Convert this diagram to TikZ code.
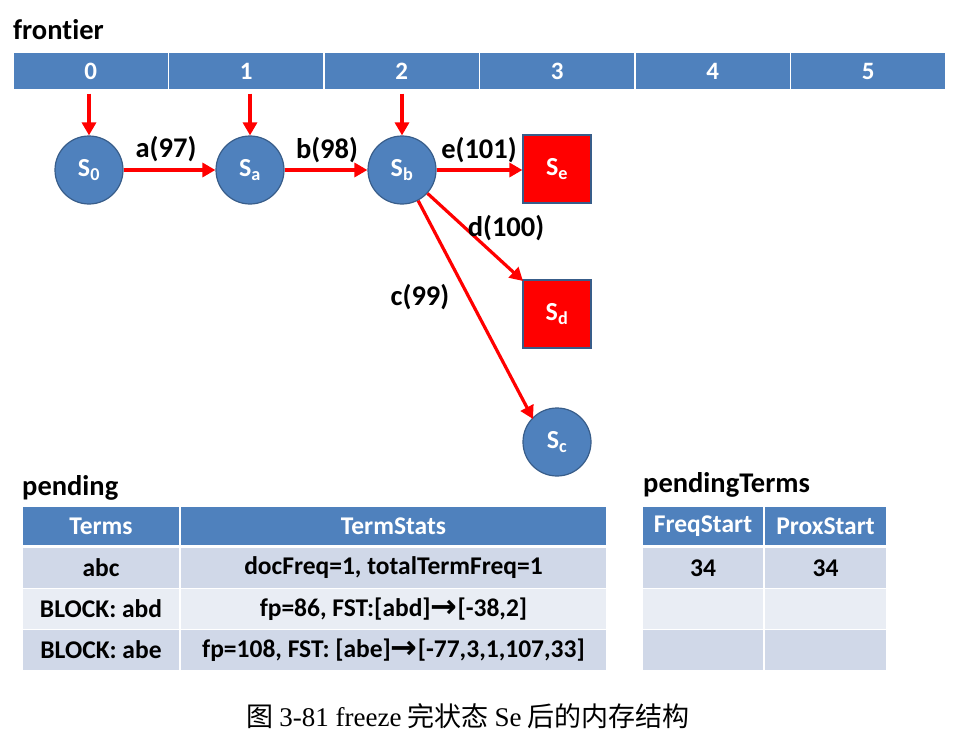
\documentclass[tikz,border=0pt]{standalone}
\usepackage{fontspec}
\setmainfont[Ligatures={NoCommon}]{Carlito}
\newfontfamily\capfont{Liberation Serif}
\newfontfamily\cjk{Noto Sans CJK SC}
\newfontfamily\arrowfont{DejaVu Sans}
\usetikzlibrary{arrows.meta}
\definecolor{hdr}{HTML}{4F81BD}
\definecolor{bord}{HTML}{385D8A}
\definecolor{rowA}{HTML}{D0D8E8}
\definecolor{rowB}{HTML}{E9EDF4}
\newcommand{\tarr}{{\arrowfont\bfseries\fontsize{32}{24}\selectfont\raisebox{-1pt}{→}}}
\begin{document}
\begin{tikzpicture}[x=1pt,y=-1pt,
  lbl/.style={font=\bfseries\fontsize{28.5}{32}\selectfont, text=black, inner sep=0},
  fcell/.style={rectangle, fill=hdr, draw=white, line width=1.2pt, minimum width=155.5, minimum height=38, inner sep=0, text=white, font=\bfseries\fontsize{25}{28}\selectfont},
  state/.style={circle, fill=hdr, draw=bord, line width=1.2pt, minimum size=68, inner sep=0, text=white, font=\bfseries\fontsize{26}{28}\selectfont},
  fstate/.style={rectangle, fill=red, draw=bord, line width=1.2pt, minimum size=68, inner sep=0, text=white, font=\bfseries\fontsize{26}{28}\selectfont},
  redarr/.style={draw=red, line width=3.2pt, -{Triangle[length=13pt,width=14pt]}},
  hcell/.style={rectangle, fill=hdr, draw=white, line width=1.5pt, inner sep=0, minimum height=40, text=white, font=\bfseries\fontsize{25.5}{28}\selectfont},
  rcellA/.style={rectangle, fill=rowA, draw=white, line width=1.5pt, inner sep=0, minimum height=41, text=black, font=\bfseries\fontsize{25.5}{28}\selectfont},
  rcellB/.style={rectangle, fill=rowB, draw=white, line width=1.5pt, inner sep=0, minimum height=41, text=black, font=\bfseries\fontsize{25.5}{28}\selectfont}
]
\useasboundingbox (0,0) rectangle (958,741);
\fill[white] (0,0) rectangle (958,741);

% frontier
\node[lbl, anchor=west] (tfront) at (13,30) {frontier};
\node[fcell] (f0) at (90.75,71) {0};
\node[fcell] (f1) at (246.25,71) {1};
\node[fcell] (f2) at (401.75,71) {2};
\node[fcell] (f3) at (557.25,71) {3};
\node[fcell] (f4) at (712.75,71) {4};
\node[fcell] (f5) at (868.25,71) {5};

% states
\node[state] (s0) at (89,170) {S\textsubscript{0}};
\node[state] (sa) at (250,170) {S\textsubscript{a}};
\node[state] (sb) at (402,170) {S\textsubscript{b}};
\node[fstate] (se) at (557,169) {S\textsubscript{e}};
\node[fstate] (sd) at (557,314) {S\textsubscript{d}};
\node[state] (sc) at (557,442) {S\textsubscript{c}};
\coordinate (sdc) at (523,281);
\coordinate (scc) at (533,419);

\draw[redarr, shorten <=3pt] (f0.south -| s0) -- (s0.north);
\draw[redarr, shorten <=3pt] (f1.south -| sa) -- (sa.north);
\draw[redarr, shorten <=3pt] (f2.south -| sb) -- (sb.north);
\draw[redarr] (s0) -- (sa);
\draw[redarr] (sa) -- (sb);
\draw[redarr] (sb.east) -- (se.west |- sb.east);
\draw[redarr] (sb) -- (sdc);
\draw[redarr] (sb) -- (scc);

\node[lbl] (la) at (166,149) {a(97)};
\node[lbl] (lb) at (327,150) {b(98)};
\node[lbl] (le) at (479,150) {e(101)};
\node[lbl] (ld) at (506,228) {d(100)};
\node[lbl] (lc) at (420,297) {c(99)};

% pending table
\node[lbl, anchor=west] (tpend) at (22,488) {pending};
\node[hcell, minimum width=158] (p00) at (101,526) {Terms};
\node[hcell, minimum width=427] (p01) at (393.5,526) {TermStats};
\node[rcellA, minimum width=158] (p10) at (101,568) {abc};
\node[rcellA, minimum width=427] (p11) at (393.5,568) {docFreq=1, totalTermFreq=1};
\node[rcellB, minimum width=158] (p20) at (101,609) {BLOCK: abd};
\node[rcellB, minimum width=427] (p21) at (393.5,609) {fp=86, FST:[abd]\tarr[-38,2]};
\node[rcellA, minimum width=158] (p30) at (101,650) {BLOCK: abe};
\node[rcellA, minimum width=427] (p31) at (393.5,650) {fp=108, FST: [abe]\tarr[-77,3,1,107,33]};

% pendingTerms table
\node[lbl, anchor=west] (tpt) at (643,485) {pendingTerms};
\node[hcell, minimum width=122] (q00) at (703,526) {FreqStart};
\node[hcell, minimum width=123] (q01) at (825.5,526) {ProxStart};
\node[rcellA, minimum width=122] (q10) at (703,568) {34};
\node[rcellA, minimum width=123] (q11) at (825.5,568) {34};
\node[rcellB, minimum width=122] (q20) at (703,609) {};
\node[rcellB, minimum width=123] (q21) at (825.5,609) {};
\node[rcellA, minimum width=122] (q30) at (703,650) {};
\node[rcellA, minimum width=123] (q31) at (825.5,650) {};

% caption
\node[inner sep=0, font=\fontsize{27}{30}\selectfont] (cap) at (468,716) {{\cjk 图} {\capfont 3-81 freeze} {\cjk 完状态} {\capfont Se} {\cjk 后的内存结构}};
\end{tikzpicture}
\end{document}
